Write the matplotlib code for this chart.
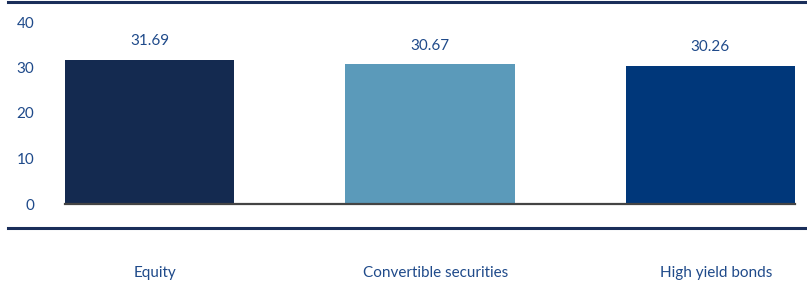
import matplotlib
matplotlib.use("Agg")
import matplotlib.pyplot as plt
from matplotlib.lines import Line2D

categories = ["Equity", "Convertible securities", "High yield bonds"]
values = [31.69, 30.67, 30.26]
colors = ["#142a50", "#5b9aba", "#00377a"]
yticks = [0, 10, 20, 30, 40]

text_color = "#1f4a8a"
W, H = 807, 285

plt.rcParams["font.family"] = ["Lato", "DejaVu Sans"]

fig = plt.figure(figsize=(W / 100, H / 100), dpi=100)
ax = fig.add_axes([65 / W, 1 - 204 / H, 730 / W, 182 / H])

x = list(range(len(categories)))
ax.bar(x, values, width=0.604, color=colors, zorder=2)
for xi, v in zip(x, values):
    ax.text(xi, v + 2.6, f"{v:.2f}", ha="center", va="bottom",
            fontsize=11, color=text_color)

ax.set_xlim(-0.302, 2.302)
ax.set_ylim(0, 40)
ax.set_yticks(yticks)
ax.set_yticklabels([str(t) for t in yticks], fontsize=11, color=text_color)
ax.tick_params(axis="y", length=0, pad=22)
ax.set_xticks([])

for s in ["top", "right", "left"]:
    ax.spines[s].set_visible(False)
ax.spines["bottom"].set_color("#444444")
ax.spines["bottom"].set_linewidth(1.6)
ax.spines["bottom"].set_zorder(3)

# category labels below the lower rule
for xi, c in zip(x, categories):
    ax.annotate(c, xy=(xi, 0), xycoords=("data", "axes fraction"),
                xytext=(4, -49.5), textcoords="offset points",
                ha="center", va="center", fontsize=11, color=text_color)

# top and bottom rules
for yp in [1.5, 228]:
    fig.add_artist(Line2D([8 / W, 1], [1 - yp / H, 1 - yp / H],
                          color="#1a2e5a", linewidth=2.2,
                          transform=fig.transFigure))

fig.savefig("out.png", dpi=100)
